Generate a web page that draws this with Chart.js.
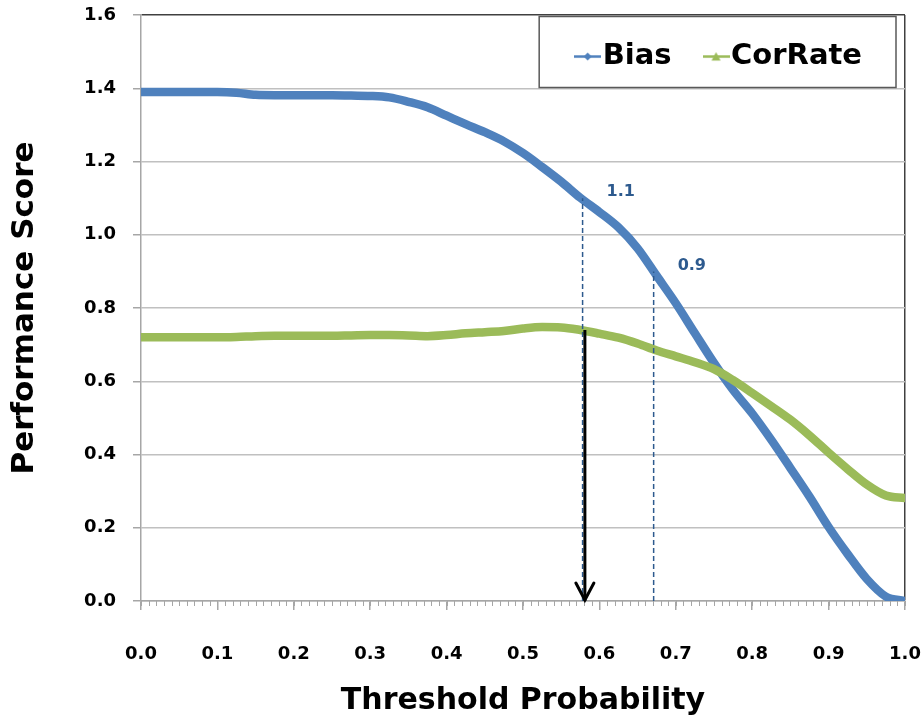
<!DOCTYPE html>
<html>
<head>
<meta charset="utf-8">
<title>Performance Score vs Threshold Probability</title>
<script src="https://cdn.jsdelivr.net/npm/chart.js@4.4.1/dist/chart.umd.min.js"></script>
<style>
  html, body { margin: 0; padding: 0; background: #fff; }
  #contenedor { width: 924px; height: 727px; }
</style>
</head>
<body>
<div id="contenedor"><canvas id="grafico"></canvas></div>
<script>
// Datos
const thresholds = [0, 0.025, 0.05, 0.075, 0.1, 0.125, 0.15, 0.175, 0.2, 0.225, 0.25, 0.275, 0.3, 0.325,
  0.35, 0.375, 0.4, 0.425, 0.45, 0.475, 0.5, 0.525, 0.55, 0.575, 0.6, 0.625, 0.65, 0.675, 0.7, 0.725,
  0.75, 0.775, 0.8, 0.825, 0.85, 0.875, 0.9, 0.925, 0.95, 0.975, 1.0];
const biasValues = [1.39, 1.39, 1.39, 1.39, 1.39, 1.388, 1.382, 1.381, 1.381, 1.381, 1.381, 1.38, 1.379, 1.375,
  1.363, 1.348, 1.325, 1.302, 1.28, 1.255, 1.223, 1.185, 1.145, 1.101, 1.062, 1.02, 0.963, 0.888, 0.813, 0.731,
  0.65, 0.576, 0.512, 0.44, 0.363, 0.285, 0.202, 0.128, 0.06, 0.012, 0.0];
const corRateValues = [0.72, 0.72, 0.72, 0.72, 0.72, 0.721, 0.723, 0.724, 0.724, 0.724, 0.724, 0.725, 0.726, 0.726,
  0.725, 0.723, 0.726, 0.731, 0.734, 0.737, 0.744, 0.748, 0.747, 0.74, 0.73, 0.719, 0.703, 0.684, 0.668, 0.652,
  0.633, 0.603, 0.568, 0.532, 0.495, 0.452, 0.405, 0.36, 0.318, 0.288, 0.281];
const seriesNames = ['Bias', 'CorRate'];

// Umbrales marcados con lineas punteadas y su valor de Bias
const cutoffThresholds = [0.578, 0.671];
const cutoffBias = [1.1, 0.9];
const cutoffLabels = ['1.1', '0.9'];

// Flecha negra: umbral elegido y valor de CorRate ahi
const arrowThreshold = 0.581;
const arrowCorRate = 0.74;

const AZUL = '#4F81BD';
const VERDE = '#9BBB59';
const AZUL_OSCURO = '#2D5A8E';
const FUENTE = 'DejaVu Sans';

// Iconos de la leyenda: linea corta con marcador
function iconoLeyenda(color, forma) {
  const c = document.createElement('canvas');
  c.width = 27; c.height = 11;
  const ctx = c.getContext('2d');
  ctx.strokeStyle = color; ctx.fillStyle = color; ctx.lineWidth = 2.5;
  ctx.beginPath(); ctx.moveTo(0, 5.5); ctx.lineTo(27, 5.5); ctx.stroke();
  ctx.beginPath();
  if (forma === 'rombo') {
    ctx.moveTo(13.5, 1.5); ctx.lineTo(17.5, 5.5); ctx.lineTo(13.5, 9.5); ctx.lineTo(9.5, 5.5);
  } else {
    ctx.moveTo(13.5, 1); ctx.lineTo(18, 9.5); ctx.lineTo(9, 9.5);
  }
  ctx.closePath(); ctx.fill();
  return c;
}

const puntos = valores => thresholds.map((t, i) => ({ x: t, y: valores[i] }));

// Marcas menores del eje X, flecha, etiquetas y recuadro de la leyenda
const extrasPlugin = {
  id: 'extras',
  afterLayout(chart) {
    // la leyenda va dentro del area del grafico, arriba a la derecha
    const lg = chart.legend;
    const area = chart.chartArea;
    lg.left = area.left;
    lg.right = area.right + 1;
    lg.top = area.top - 17;
    lg.bottom = area.bottom;
  },
  beforeDatasetsDraw(chart) {
    const ctx = chart.ctx;
    const x = chart.scales.x;
    const area = chart.chartArea;
    ctx.save();
    ctx.strokeStyle = '#A6A6A6';
    ctx.lineWidth = 1;
    for (let i = 0; i <= 100; i++) {
      const px = Math.round(x.getPixelForValue(i / 100)) + 0.5;
      ctx.beginPath(); ctx.moveTo(px, area.bottom); ctx.lineTo(px, area.bottom + 5); ctx.stroke();
    }
    ctx.restore();
  },
  afterDatasetsDraw(chart) {
    const ctx = chart.ctx;
    ctx.save();
    // etiquetas de los umbrales
    ctx.fillStyle = AZUL_OSCURO;
    ctx.font = 'bold 16px "' + FUENTE + '"';
    ctx.textAlign = 'left';
    ctx.textBaseline = 'middle';
    cutoffLabels.forEach((txt, i) => {
      const p = chart.getDatasetMeta(2 + i).data[1];
      ctx.fillText(txt, p.x + 24, p.y - 6);
    });
    // punta de la flecha
    const punta = chart.getDatasetMeta(4).data[1];
    ctx.strokeStyle = '#000';
    ctx.lineWidth = 3;
    ctx.lineCap = 'round';
    ctx.beginPath();
    ctx.moveTo(punta.x - 9, punta.y - 18);
    ctx.lineTo(punta.x, punta.y - 1);
    ctx.lineTo(punta.x + 9, punta.y - 18);
    ctx.stroke();
    ctx.restore();
  },
  afterDraw(chart) {
    // recuadro de la leyenda
    const ctx = chart.ctx;
    const lg = chart.legend;
    if (!lg || !lg.lineWidths) return;
    const pad = lg.options.labels.padding;
    const inicio = lg.right - lg.lineWidths[0] + 15;
    const medio = lg.top + pad + 14.5;
    const izq = inicio - 63;
    const der = lg.right - pad + 34;
    ctx.save();
    ctx.strokeStyle = '#595959';
    ctx.lineWidth = 1.5;
    ctx.strokeRect(izq, medio - 40, der - izq, 71);
    ctx.restore();
  }
};

const ctx = document.getElementById('grafico').getContext('2d');

new Chart(ctx, {
  type: 'line',
  data: {
    datasets: [
      {
        label: seriesNames[0],
        data: puntos(biasValues),
        borderColor: AZUL,
        backgroundColor: AZUL,
        borderWidth: 8.5,
        borderCapStyle: 'round',
        pointRadius: 0,
        pointStyle: iconoLeyenda(AZUL, 'rombo'),
        cubicInterpolationMode: 'monotone',
        order: 3
      },
      {
        label: seriesNames[1],
        data: puntos(corRateValues),
        borderColor: VERDE,
        backgroundColor: VERDE,
        borderWidth: 8.5,
        borderCapStyle: 'round',
        pointRadius: 0,
        pointStyle: iconoLeyenda(VERDE, 'triangulo'),
        cubicInterpolationMode: 'monotone',
        order: 2
      },
      ...cutoffThresholds.map((t, i) => ({
        label: 'corte' + i,
        data: [{ x: t, y: 0 }, { x: t, y: cutoffBias[i] }],
        borderColor: AZUL_OSCURO,
        borderWidth: 1.5,
        borderDash: [5, 3],
        pointRadius: 0,
        order: 1
      })),
      {
        label: 'flecha',
        data: [{ x: arrowThreshold, y: arrowCorRate }, { x: arrowThreshold, y: 0 }],
        borderColor: '#000',
        borderWidth: 3,
        pointRadius: 0,
        order: 0
      }
    ]
  },
  options: {
    responsive: true,
    maintainAspectRatio: false,
    animation: false,
    layout: { padding: { top: 15, right: 19, left: 0, bottom: 0 } },
    plugins: {
      tooltip: { enabled: false },
      legend: {
        position: 'top',
        align: 'end',
        maxHeight: 0.001,
        labels: {
          usePointStyle: true,
          pointStyleWidth: 1,
          padding: 44,
          color: '#000',
          font: { family: FUENTE, size: 29, weight: 'bold' },
          filter: item => item.datasetIndex < 2,
          sort: (a, b) => a.datasetIndex - b.datasetIndex
        }
      }
    },
    scales: {
      x: {
        type: 'linear',
        min: 0,
        max: 1,
        afterFit: scale => {
          scale.height = 126;
          scale.paddingLeft = 0;
          scale.paddingRight = 0;
        },
        ticks: {
          stepSize: 0.1,
          padding: 34,
          maxRotation: 0,
          color: '#000',
          font: { family: FUENTE, size: 18, weight: 'bold' },
          callback: v => Number(v).toFixed(1)
        },
        grid: {
          drawOnChartArea: true,
          tickLength: 9,
          tickColor: '#A6A6A6',
          lineWidth: 1.5,
          color: c => (c.tick && Math.abs(c.tick.value - 1) < 1e-6) ? '#404040' : 'rgba(0,0,0,0)'
        },
        border: { display: true, color: '#A6A6A6', width: 1.5 },
        title: {
          display: true,
          text: 'Threshold Probability',
          color: '#000',
          font: { family: FUENTE, size: 30, weight: 'bold' },
          padding: { top: 0, bottom: 8 }
        }
      },
      y: {
        min: 0,
        max: 1.6,
        afterFit: scale => {
          scale.width = 141;
          scale.paddingTop = 0;
          scale.paddingBottom = 0;
        },
        ticks: {
          stepSize: 0.2,
          padding: 17,
          color: '#000',
          font: { family: FUENTE, size: 18, weight: 'bold' },
          callback: v => Number(v).toFixed(1)
        },
        grid: {
          tickLength: 8,
          tickColor: '#A6A6A6',
          lineWidth: 1.5,
          color: c => (c.tick && Math.abs(c.tick.value - 1.6) < 1e-6) ? '#404040' : '#C0C0C0'
        },
        border: { display: true, color: '#A6A6A6', width: 1.5 },
        title: {
          display: true,
          text: 'Performance Score',
          color: '#000',
          font: { family: FUENTE, size: 31, weight: 'bold' },
          padding: { top: 6, bottom: 0 }
        }
      }
    }
  },
  plugins: [extrasPlugin]
});
</script>
</body>
</html>
